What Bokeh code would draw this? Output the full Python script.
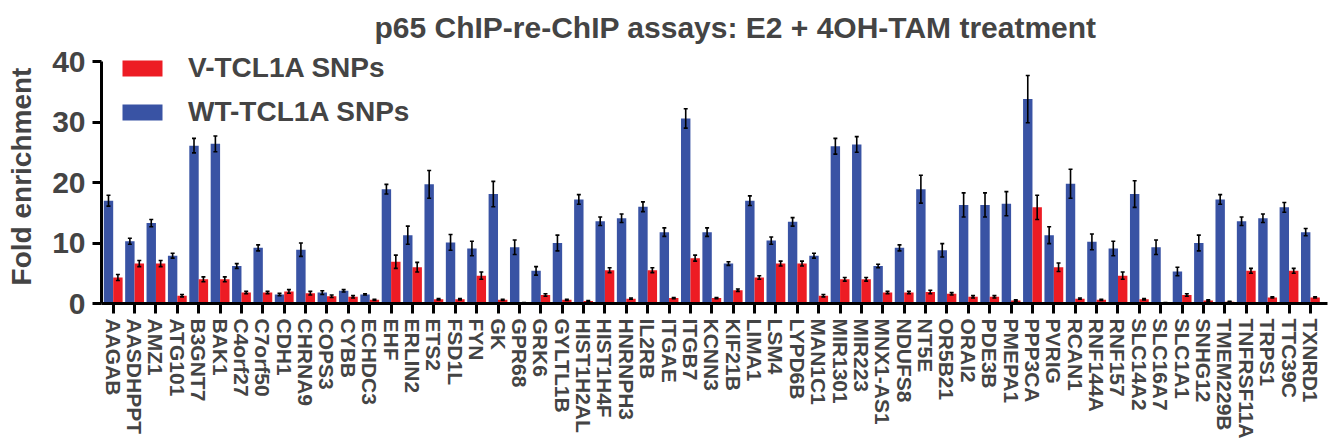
from bokeh.plotting import figure
from bokeh.models import (ColumnDataSource, FixedTicker, Whisker, TeeHead,
                          Legend, LegendItem, Range1d)
from bokeh.embed import file_html
from bokeh.resources import INLINE

genes = ["AAGAB", "AASDHPPT", "AMZ1", "ATG101", "B3GNT7", "BAK1", "C4orf27",
         "C7orf50", "CDH1", "CHRNA9", "COPS3", "CYBB", "ECHDC3", "EHF",
         "ERLIN2", "ETS2", "FSD1L", "FYN", "GK", "GPR68", "GRK6", "GYLTL1B",
         "HIST1H2AL", "HIST1H4F", "HNRNPH3", "IL2RB", "ITGAE", "ITGB7",
         "KCNN3", "KIF21B", "LIMA1", "LSM4", "LYPD6B", "MAN1C1", "MIR1301",
         "MIR223", "MNX1-AS1", "NDUFS8", "NT5E", "OR5B21", "ORAI2", "PDE3B",
         "PMEPA1", "PPP3CA", "PVRIG", "RCAN1", "RNF144A", "RNF157", "SLC14A2",
         "SLC16A7", "SLC1A1", "SNHG12", "TMEM229B", "TNFRSF11A", "TRPS1",
         "TTC39C", "TXNRD1"]

wt_mean = [17.0, 10.3, 13.3, 7.9, 26.1, 26.4, 6.2, 9.2, 1.5, 8.9, 1.8, 2.1,
           1.5, 18.9, 11.3, 19.7, 10.1, 9.1, 18.1, 9.3, 5.4, 10.0, 17.2, 13.6,
           14.1, 16.0, 11.8, 30.6, 11.8, 6.6, 17.0, 10.4, 13.5, 7.9, 26.0,
           26.3, 6.2, 9.2, 18.9, 8.8, 16.3, 16.3, 16.5, 33.8, 11.3, 19.8, 10.2,
           9.1, 18.1, 9.3, 5.3, 10.0, 17.2, 13.6, 14.1, 15.9, 11.8]
wt_err = [0.9, 0.5, 0.6, 0.4, 1.2, 1.3, 0.4, 0.5, 0.2, 1.1, 0.3, 0.2, 0.1, 0.8,
          1.5, 2.3, 1.3, 1.2, 2.1, 1.2, 0.7, 1.3, 0.8, 0.7, 0.7, 0.8, 0.7, 1.6,
          0.7, 0.3, 0.8, 0.6, 0.7, 0.4, 1.3, 1.3, 0.3, 0.5, 2.3, 1.1, 2.0, 2.0,
          2.0, 3.9, 1.4, 2.4, 1.3, 1.2, 2.2, 1.2, 0.7, 1.3, 0.8, 0.7, 0.7, 0.8,
          0.6]

v_mean = [4.3, 6.6, 6.6, 1.3, 4.0, 4.0, 1.8, 1.8, 2.0, 1.7, 1.2, 1.1, 0.6, 6.9,
          6.0, 0.7, 0.7, 4.6, 0.6, 0.1, 1.4, 0.6, 0.4, 5.5, 0.8, 5.5, 0.9, 7.5,
          0.9, 2.2, 4.3, 6.6, 6.6, 1.3, 4.0, 4.0, 1.8, 1.8, 1.9, 1.6, 1.1, 1.1,
          0.5, 15.9, 6.0, 0.8, 0.6, 4.6, 0.7, 0.1, 1.4, 0.5, 0.3, 5.4, 1.0,
          5.4, 1.0]
v_err = [0.5, 0.5, 0.5, 0.2, 0.4, 0.4, 0.2, 0.2, 0.3, 0.3, 0.2, 0.2, 0.1, 1.1,
         0.8, 0.1, 0.1, 0.6, 0.1, 0.05, 0.2, 0.1, 0.1, 0.4, 0.1, 0.4, 0.1, 0.5,
         0.1, 0.2, 0.3, 0.4, 0.4, 0.2, 0.3, 0.3, 0.2, 0.2, 0.3, 0.2, 0.2, 0.2,
         0.1, 2.0, 0.7, 0.1, 0.1, 0.6, 0.1, 0.05, 0.2, 0.1, 0.05, 0.4, 0.1,
         0.4, 0.1]

y_ticks = [0, 10, 20, 30, 40]

RED = "#ED1C24"
BLUE = "#3953A4"
FONT = "Liberation Sans"
BW = 0.44
OFF = 0.22

idx = list(range(len(genes)))
wt_src = ColumnDataSource(dict(
    x=[i - OFF for i in idx], top=wt_mean,
    upper=[m + e for m, e in zip(wt_mean, wt_err)],
    lower=[m - e for m, e in zip(wt_mean, wt_err)]))
v_src = ColumnDataSource(dict(
    x=[i + OFF for i in idx], top=v_mean,
    upper=[m + e for m, e in zip(v_mean, v_err)],
    lower=[max(m - e, 0) for m, e in zip(v_mean, v_err)]))

p = figure(width=1335, height=445, output_backend="svg", toolbar_location=None,
           x_range=Range1d(-0.547, 56.8), y_range=Range1d(0, 42),
           min_border_left=101, min_border_right=8, min_border_top=49,
           min_border_bottom=142)

p.title.text = "p65 ChIP-re-ChIP assays: E2 + 4OH-TAM treatment"
p.title.text_font = FONT
p.title.text_font_size = "30px"
p.title.text_font_style = "bold"
p.title.align = "left"
p.title.offset = 273
p.title.standoff = 12

wt = p.vbar(x="x", top="top", width=BW, source=wt_src, fill_color=BLUE,
            line_color=None)
v = p.vbar(x="x", top="top", width=BW, source=v_src, fill_color=RED,
           line_color=None)

for src in (wt_src, v_src):
    w = Whisker(base="x", upper="upper", lower="lower", source=src,
                line_color="black", line_width=1.6, level="overlay",
                upper_head=TeeHead(size=4, line_width=1.6, line_color="black"),
                lower_head=TeeHead(size=4, line_width=1.6, line_color="black"))
    p.add_layout(w)

p.xgrid.visible = False
p.ygrid.visible = False
p.outline_line_color = None

p.xaxis.ticker = FixedTicker(ticks=idx)
p.xaxis.major_label_overrides = {i: g for i, g in enumerate(genes)}
p.xaxis.major_label_orientation = "vertical"
p.xaxis.major_label_text_font = FONT
p.xaxis.major_label_text_font_size = "21px"
p.xaxis.major_label_text_font_style = "bold"
p.xaxis.major_label_standoff = 5
p.xaxis.axis_line_width = 3
p.xaxis.major_tick_line_width = 3
p.xaxis.major_tick_out = 10
p.xaxis.major_tick_in = 0
p.xaxis.minor_tick_line_color = None

p.yaxis.ticker = FixedTicker(ticks=y_ticks)
p.yaxis.bounds = (0, 40)
p.yaxis.major_label_text_font = FONT
p.yaxis.major_label_text_font_size = "30px"
p.yaxis.major_label_text_font_style = "bold"
p.yaxis.major_label_standoff = 7
p.yaxis.axis_line_width = 3
p.yaxis.major_tick_line_width = 3
p.yaxis.major_tick_out = 9
p.yaxis.major_tick_in = 0
p.yaxis.minor_tick_line_color = None
p.yaxis.axis_label = "Fold enrichment"
p.yaxis.axis_label_text_font = FONT
p.yaxis.axis_label_text_font_size = "28px"
p.yaxis.axis_label_text_font_style = "bold"
p.yaxis.axis_label_standoff = 12

legend = Legend(items=[LegendItem(label="V-TCL1A SNPs", renderers=[v]),
                       LegendItem(label="WT-TCL1A SNPs", renderers=[wt])],
                location=(16, 175), orientation="vertical",
                glyph_width=50, glyph_height=20, label_height=20,
                label_standoff=21, spacing=12, padding=0, margin=0,
                border_line_color=None, background_fill_alpha=0,
                label_text_font=FONT, label_text_font_size="28px",
                label_text_font_style="bold")
p.add_layout(legend)

open("out.html", "w").write(file_html(p, INLINE))
